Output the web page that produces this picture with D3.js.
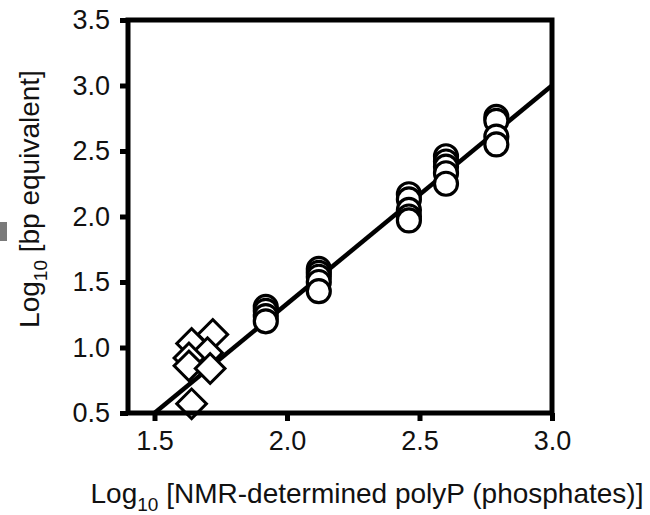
<!DOCTYPE html>
<html>
<head>
<meta charset="utf-8">
<script src="https://cdn.jsdelivr.net/npm/d3@7"></script>
<style>
  body { margin: 0; background: #fff; }
  text { font-family: "Liberation Sans", Arial, sans-serif; fill: #111; }
</style>
</head>
<body>
<svg id="chart" width="650" height="515"></svg>
<script>
// data
var circleX = [1.92, 1.92, 1.92, 1.92,
               2.12, 2.12, 2.12, 2.12, 2.12,
               2.46, 2.46, 2.46, 2.46, 2.46,
               2.60, 2.60, 2.60, 2.60, 2.60,
               2.79, 2.79, 2.79, 2.79];
var circleY = [1.31, 1.28, 1.24, 1.20,
               1.60, 1.57, 1.54, 1.50, 1.43,
               2.17, 2.13, 2.05, 2.00, 1.97,
               2.46, 2.42, 2.38, 2.33, 2.25,
               2.76, 2.73, 2.61, 2.55];
var diamondX = [1.72, 1.64, 1.70, 1.63, 1.63, 1.71, 1.64];
var diamondY = [1.10, 1.03, 0.96, 0.92, 0.86, 0.84, 0.57];
var fitX = [1.5, 3.0];
var fitY = [0.5, 3.0];
var xTicks = [1.5, 2.0, 2.5, 3.0];
var yTicks = [0.5, 1.0, 1.5, 2.0, 2.5, 3.0, 3.5];

var svg = d3.select('#chart');
var plotL = 128, plotR = 552, plotT = 20, plotB = 413;

var x = d3.scaleLinear().domain([1.4, 3.0]).range([plotL, plotR]);
var y = d3.scaleLinear().domain([0.5, 3.5]).range([plotB, plotT]);

// stray grey mark on the left edge
svg.append('rect').attr('x', 0).attr('y', 222).attr('width', 7).attr('height', 19).attr('fill', '#7a7a7a');

// fit line (behind the markers)
svg.append('line')
  .attr('x1', x(fitX[0])).attr('y1', y(fitY[0]))
  .attr('x2', x(fitX[1])).attr('y2', y(fitY[1]))
  .attr('stroke', '#000').attr('stroke-width', 4.5);

// diamonds
svg.selectAll('.dia').data(diamondX)
  .enter().append('path')
  .attr('class', 'dia')
  .attr('d', d3.symbol().type(d3.symbolSquare).size(440))
  .attr('transform', (d, i) => 'translate(' + x(d) + ',' + y(diamondY[i]) + ') rotate(45)')
  .attr('fill', '#fff').attr('stroke', '#000').attr('stroke-width', 3);

// circles
svg.selectAll('.pt').data(circleX)
  .enter().append('circle')
  .attr('class', 'pt')
  .attr('cx', d => x(d))
  .attr('cy', (d, i) => y(circleY[i]))
  .attr('r', 11.5)
  .attr('fill', '#fff').attr('stroke', '#000').attr('stroke-width', 3.2);

// frame
svg.append('rect')
  .attr('x', plotL).attr('y', plotT)
  .attr('width', plotR - plotL).attr('height', plotB - plotT)
  .attr('fill', 'none').attr('stroke', '#000').attr('stroke-width', 5);

var fmt = d3.format('.1f');
var xAxis = svg.append('g').attr('transform', 'translate(0,' + plotB + ')')
  .call(d3.axisBottom(x).tickValues(xTicks).tickFormat(fmt).tickSize(8).tickSizeOuter(0).tickPadding(10));
var yAxis = svg.append('g').attr('transform', 'translate(' + plotL + ',0)')
  .call(d3.axisLeft(y).tickValues(yTicks).tickFormat(fmt).tickSize(8).tickSizeOuter(0).tickPadding(10));
[xAxis, yAxis].forEach(function(g) {
  g.select('.domain').remove();
  g.selectAll('.tick line').attr('stroke', '#000').attr('stroke-width', 5);
  g.selectAll('.tick text').style('font-size', '27px').style('font-family', '"Liberation Sans", Arial, sans-serif').attr('fill', '#111');
});

// axis titles
var xt = svg.append('text').attr('x', 367).attr('y', 503).attr('text-anchor', 'middle').style('font-size', '28px');
xt.append('tspan').text('Log');
xt.append('tspan').text('10').attr('dy', 8).style('font-size', '19px');
xt.append('tspan').text(' [NMR-determined polyP (phosphates)]').attr('dy', -8);

var yt = svg.append('text').attr('transform', 'translate(39,199) rotate(-90)').attr('text-anchor', 'middle').style('font-size', '28px');
yt.append('tspan').text('Log');
yt.append('tspan').text('10').attr('dy', 8).style('font-size', '19px');
yt.append('tspan').text(' [bp equivalent]').attr('dy', -8);
</script>
</body>
</html>
